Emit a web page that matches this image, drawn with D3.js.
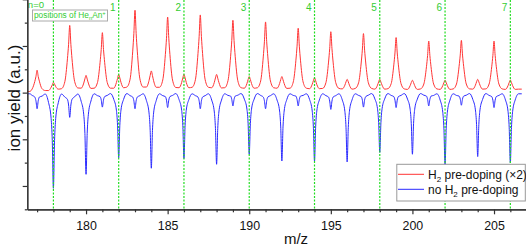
<!DOCTYPE html>
<html>
<head>
<meta charset="utf-8">
<script src="https://cdn.jsdelivr.net/npm/d3@7"></script>
<style>
  body { margin: 0; background: #fff; }
  svg { display: block; font-family: "Liberation Sans", Arial, sans-serif; }
</style>
</head>
<body>
<div id="chart"></div>
<script>
// nominal masses of the peaks
const masses = [177, 178, 179, 180, 181, 182, 183, 184, 185, 186, 187, 188, 189, 190, 191,
                192, 193, 194, 195, 196, 197, 198, 199, 200, 201, 202, 203, 204, 205, 206];

// sample points read around every peak, relative to its mass
const offsets = [-0.3, -0.14, -0.07, 0, 0.07, 0.14, 0.3, 0.5];

// H2 pre-doping (x2), one row per mass
const redRows = [
  [0.16, 0.48, 0.69, 0.96, 0.69, 0.49, 0.17, 0.09],
  [0.09, 0.23, 0.33, 0.44, 0.36, 0.26, 0.15, 0.17],
  [0.47, 1.45, 2.07, 2.88, 2.07, 1.45, 0.48, 0.20],
  [0.19, 0.41, 0.59, 0.74, 0.58, 0.41, 0.18, 0.19],
  [0.43, 1.30, 1.85, 2.57, 1.85, 1.30, 0.43, 0.19],
  [0.19, 0.43, 0.61, 0.78, 0.63, 0.44, 0.21, 0.24],
  [0.58, 1.78, 2.54, 3.53, 2.54, 1.78, 0.59, 0.24],
  [0.24, 0.52, 0.74, 0.93, 0.73, 0.51, 0.23, 0.23],
  [0.54, 1.63, 2.33, 3.24, 2.33, 1.63, 0.54, 0.22],
  [0.21, 0.44, 0.63, 0.78, 0.63, 0.44, 0.21, 0.23],
  [0.55, 1.68, 2.40, 3.33, 2.40, 1.68, 0.55, 0.23],
  [0.21, 0.44, 0.63, 0.78, 0.62, 0.44, 0.20, 0.21],
  [0.52, 1.56, 2.23, 3.10, 2.23, 1.56, 0.51, 0.21],
  [0.19, 0.39, 0.56, 0.69, 0.56, 0.39, 0.19, 0.21],
  [0.50, 1.53, 2.18, 3.03, 2.18, 1.53, 0.50, 0.21],
  [0.19, 0.39, 0.56, 0.69, 0.55, 0.39, 0.18, 0.19],
  [0.46, 1.39, 1.99, 2.76, 1.99, 1.39, 0.46, 0.19],
  [0.17, 0.36, 0.51, 0.63, 0.51, 0.35, 0.17, 0.18],
  [0.43, 1.31, 1.88, 2.61, 1.88, 1.31, 0.43, 0.18],
  [0.16, 0.32, 0.46, 0.57, 0.46, 0.32, 0.15, 0.18],
  [0.42, 1.27, 1.82, 2.53, 1.82, 1.27, 0.42, 0.18],
  [0.15, 0.32, 0.46, 0.57, 0.45, 0.32, 0.15, 0.17],
  [0.39, 1.19, 1.70, 2.36, 1.70, 1.19, 0.39, 0.16],
  [0.14, 0.30, 0.43, 0.53, 0.43, 0.30, 0.14, 0.16],
  [0.37, 1.11, 1.59, 2.21, 1.59, 1.11, 0.37, 0.16],
  [0.14, 0.30, 0.43, 0.53, 0.43, 0.30, 0.14, 0.16],
  [0.37, 1.13, 1.61, 2.24, 1.61, 1.13, 0.37, 0.16],
  [0.15, 0.32, 0.46, 0.57, 0.46, 0.32, 0.15, 0.16],
  [0.37, 1.11, 1.59, 2.21, 1.59, 1.11, 0.37, 0.16],
  [0.14, 0.30, 0.43, 0.54, 0.43, 0.30, 0.14, 0.15]
];
const redStart = [[176.4, 0.04], [176.55, 0.05]];
const redEnd = [[206.7, 0.15]];

// no H2 pre-doping, drawn downwards
const blueRows = [
  [-0.12, -0.19, -0.35, -0.69, -0.35, -0.19, -0.15, -0.06],
  [-0.42, -1.11, -2.05, -4.10, -2.05, -1.11, -0.43, -0.06],
  [-0.19, -0.29, -0.53, -1.06, -0.53, -0.29, -0.18, -0.06],
  [-0.37, -0.95, -1.75, -3.50, -1.75, -0.95, -0.36, -0.05],
  [-0.13, -0.17, -0.31, -0.62, -0.31, -0.17, -0.12, -0.04],
  [-0.29, -0.75, -1.40, -2.79, -1.40, -0.75, -0.29, -0.04],
  [-0.13, -0.19, -0.35, -0.69, -0.35, -0.19, -0.13, -0.05],
  [-0.34, -0.87, -1.62, -3.24, -1.62, -0.87, -0.34, -0.05],
  [-0.13, -0.17, -0.32, -0.64, -0.32, -0.17, -0.12, -0.04],
  [-0.30, -0.76, -1.41, -2.82, -1.41, -0.76, -0.30, -0.05],
  [-0.13, -0.19, -0.35, -0.69, -0.35, -0.19, -0.13, -0.05],
  [-0.32, -0.83, -1.54, -3.07, -1.54, -0.83, -0.32, -0.05],
  [-0.12, -0.15, -0.29, -0.57, -0.29, -0.15, -0.11, -0.04],
  [-0.28, -0.71, -1.32, -2.64, -1.32, -0.71, -0.28, -0.04],
  [-0.12, -0.19, -0.35, -0.69, -0.35, -0.19, -0.13, -0.05],
  [-0.31, -0.79, -1.47, -2.93, -1.47, -0.79, -0.30, -0.05],
  [-0.12, -0.15, -0.29, -0.57, -0.29, -0.15, -0.12, -0.05],
  [-0.30, -0.79, -1.47, -2.93, -1.47, -0.79, -0.31, -0.05],
  [-0.13, -0.19, -0.36, -0.72, -0.36, -0.19, -0.13, -0.05],
  [-0.31, -0.80, -1.49, -2.97, -1.49, -0.80, -0.31, -0.05],
  [-0.12, -0.17, -0.31, -0.62, -0.31, -0.17, -0.11, -0.04],
  [-0.27, -0.69, -1.28, -2.56, -1.28, -0.69, -0.27, -0.04],
  [-0.12, -0.17, -0.32, -0.64, -0.32, -0.17, -0.12, -0.04],
  [-0.28, -0.71, -1.32, -2.64, -1.32, -0.71, -0.28, -0.04],
  [-0.11, -0.15, -0.29, -0.57, -0.29, -0.15, -0.12, -0.05],
  [-0.32, -0.84, -1.55, -3.10, -1.55, -0.84, -0.32, -0.05],
  [-0.12, -0.15, -0.27, -0.54, -0.27, -0.15, -0.11, -0.04],
  [-0.29, -0.74, -1.37, -2.74, -1.37, -0.74, -0.29, -0.04],
  [-0.12, -0.17, -0.32, -0.64, -0.32, -0.17, -0.12, -0.05],
  [-0.31, -0.81, -1.50, -3.00, -1.50, -0.81, -0.31, -0.05]
];
const blueStart = [[176.4, -0.05], [176.55, -0.05]];
const blueEnd = [[206.7, -0.05]];

// He_n An+ positions
const heMasses = [178, 182, 186, 190, 194, 198, 202, 206];
const heLabels = ["n=0", "1", "2", "3", "4", "5", "6", "7"];

// axis ticks
const xMajor = [180, 185, 190, 195, 200, 205];
const xMinor = [177, 178, 179, 181, 182, 183, 184, 186, 187, 188, 189, 191, 192, 193, 194,
                196, 197, 198, 199, 201, 202, 203, 204, 206];
const yMajor = [-4, -2, 0, 2, 4];
const yMinor = [-5, -3, -1, 1, 3];

const width = 526, height = 247;

const svg = d3.select("#chart").append("svg")
    .attr("width", width)
    .attr("height", height);

const x = d3.scaleLinear().domain([176.4, 206.96]).range([27.3, 526]);
const y = d3.scaleLinear().domain([-5, 4]).range([209.3, -0.7]);

function buildSeries(start, rows, end) {
    const pts = start.slice();
    masses.forEach((m, i) => {
        offsets.forEach((o, j) => pts.push([m + o, rows[i][j]]));
    });
    return pts.concat(end);
}

const line = d3.line()
    .x(d => x(d[0]))
    .y(d => y(d[1]))
    .curve(d3.curveMonotoneX);

svg.append("path")
    .datum(buildSeries(redStart, redRows, redEnd))
    .attr("d", line)
    .attr("fill", "none")
    .attr("stroke", "#ff3535")
    .attr("stroke-width", 1);

svg.append("path")
    .datum(buildSeries(blueStart, blueRows, blueEnd))
    .attr("d", line)
    .attr("fill", "none")
    .attr("stroke", "#2a2aff")
    .attr("stroke-width", 1);

// green dotted position lines
svg.selectAll(".he")
    .data(heMasses)
    .enter().append("line")
    .attr("x1", d => x(d))
    .attr("x2", d => x(d))
    .attr("y1", 0)
    .attr("y2", y(-5))
    .attr("stroke", "#22dd22")
    .attr("stroke-width", 1.2)
    .attr("stroke-dasharray", "2,1.5");

svg.selectAll(".helabel")
    .data(heMasses.slice(1))
    .enter().append("text")
    .attr("x", d => x(d) - 3)
    .attr("y", 11)
    .attr("text-anchor", "end")
    .attr("font-size", 10)
    .attr("fill", "#33cc33")
    .text((d, i) => heLabels[i + 1]);

svg.append("text")
    .attr("x", 27.8)
    .attr("y", 8)
    .attr("font-size", 9.6)
    .attr("fill", "#33cc33")
    .text(heLabels[0]);

// axes
function styleAxis(g) {
    g.selectAll("path, line").attr("stroke", "#333").attr("stroke-width", 1.2);
    g.selectAll("text").attr("fill", "#111").attr("font-size", 12.4)
        .attr("font-family", "\"Liberation Sans\", Arial, sans-serif");
}

svg.append("g")
    .attr("transform", `translate(0,${y(-5)})`)
    .call(d3.axisBottom(x).tickValues(xMinor).tickSize(3).tickSizeOuter(0).tickFormat(""))
    .call(styleAxis);

svg.append("g")
    .attr("transform", `translate(0,${y(-5)})`)
    .call(d3.axisBottom(x).tickValues(xMajor).tickSize(5).tickPadding(7).tickSizeOuter(0))
    .call(styleAxis);

svg.append("g")
    .attr("transform", `translate(${x(176.4)},0)`)
    .call(d3.axisLeft(y).tickValues(yMinor).tickSize(2.5).tickSizeOuter(0).tickFormat(""))
    .call(styleAxis);

svg.append("g")
    .attr("transform", `translate(${x(176.4)},0)`)
    .call(d3.axisLeft(y).tickValues(yMajor).tickSize(4.6).tickSizeOuter(0).tickFormat(""))
    .call(styleAxis);

svg.append("text")
    .attr("x", 296)
    .attr("y", 244)
    .attr("text-anchor", "middle")
    .attr("font-size", 15)
    .attr("fill", "#111")
    .text("m/z");

svg.append("text")
    .attr("transform", "translate(20,98) rotate(-90)")
    .attr("text-anchor", "middle")
    .attr("font-size", 17)
    .attr("fill", "#111")
    .text("ion yield (a.u.)");

// label box top left
svg.append("rect")
    .attr("x", 32.5)
    .attr("y", 10)
    .attr("width", 75)
    .attr("height", 11)
    .attr("fill", "#fff")
    .attr("stroke", "#aaa")
    .attr("stroke-width", 1);

const posText = svg.append("text")
    .attr("x", 34)
    .attr("y", 18.3)
    .attr("font-size", 8.3)
    .attr("fill", "#33cc33");
posText.append("tspan").text("positions of He");
posText.append("tspan").attr("font-size", 5.8).attr("dy", 1.5).text("n");
posText.append("tspan").attr("dy", -1.5).text("An");
posText.append("tspan").attr("font-size", 5.8).attr("dy", -3).text("+");

// legend
const legend = svg.append("g");
legend.append("rect")
    .attr("x", 396.8)
    .attr("y", 164.3)
    .attr("width", 128.5)
    .attr("height", 36.7)
    .attr("fill", "#fff")
    .attr("stroke", "#999")
    .attr("stroke-width", 1);

const legendItems = [
    { color: "#ff3535", main: "H", sub: "2", rest: " pre-doping (\u00d72)" },
    { color: "#2a2aff", main: "no H", sub: "2", rest: " pre-doping" }
];

legendItems.forEach((item, i) => {
    const ly = 174.3 + i * 15;
    legend.append("line")
        .attr("x1", 398).attr("x2", 424)
        .attr("y1", ly).attr("y2", ly)
        .attr("stroke", item.color)
        .attr("stroke-width", 1);
    const t = legend.append("text")
        .attr("x", 428)
        .attr("y", ly + 4.3)
        .attr("font-size", 12)
        .attr("fill", "#111");
    t.append("tspan").text(item.main);
    t.append("tspan").attr("font-size", 8).attr("dy", 3).text(item.sub);
    t.append("tspan").attr("dy", -3).text(item.rest);
});
</script>
</body>
</html>
